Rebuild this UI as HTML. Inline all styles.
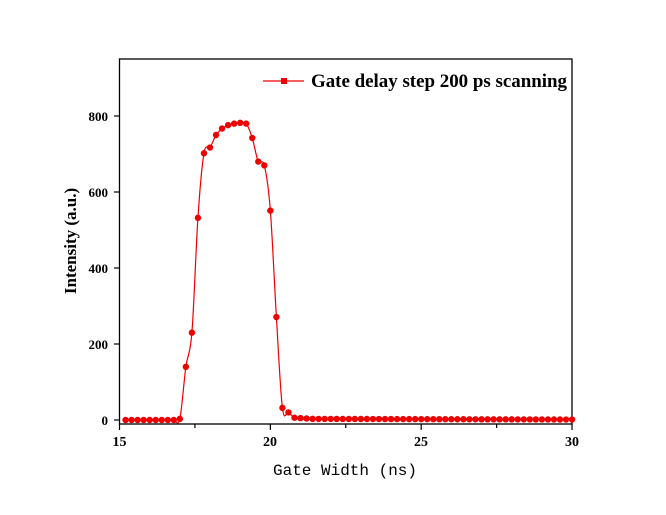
<!DOCTYPE html>
<html><head><meta charset="utf-8"><style>body{margin:0;background:#fff}</style></head>
<body>
<svg id="s" width="666" height="510" xmlns="http://www.w3.org/2000/svg" font-family="Liberation Serif, serif">
<rect width="666" height="510" fill="#fff"/>
<rect x="119.5" y="59" width="452.5" height="365" fill="none" stroke="#000" stroke-width="1.3"/>
<g id="ax" stroke="#000" stroke-width="1.2"></g>
<g font-weight="bold" font-size="13" text-anchor="end">
<text x="108" y="425">0</text><text x="108" y="349">200</text><text x="108" y="273">400</text><text x="108" y="197">600</text><text x="108" y="121">800</text>
</g>
<g font-weight="bold" font-size="14" text-anchor="middle">
<text x="119.5" y="446">15</text><text x="270" y="446">20</text><text x="421" y="446">25</text><text x="572" y="446">30</text>
</g>
<text x="345" y="475" text-anchor="middle" font-family="Liberation Mono, monospace" font-size="16">Gate Width (ns)</text>
<text transform="translate(76,241) rotate(-90)" text-anchor="middle" font-weight="bold" font-size="17">Intensity (a.u.)</text>
<line x1="263" y1="81" x2="304" y2="81" stroke="#e00" stroke-width="1.2"/>
<rect x="281" y="78" width="6" height="6" fill="#e00"/>
<text x="311" y="87" font-weight="bold" font-size="19" textLength="256" lengthAdjust="spacingAndGlyphs">Gate delay step 200 ps scanning</text>
<g id="d"></g>
</svg>
<script>
var ax=document.getElementById('ax'),d=document.getElementById('d'),h='';
function X(v){return 119.5+(v-15)*30.17}function Y(v){return 420-v*0.38}
for(var t=15;t<=30;t+=2.5){var mj=(t%5==0);h+='<line x1="'+X(t)+'" y1="424" x2="'+X(t)+'" y2="'+(424+(mj?6:4))+'"/>';}
for(var v=0;v<=800;v+=200)h+='<line x1="119.5" y1="'+Y(v)+'" x2="114" y2="'+Y(v)+'"/>';
ax.innerHTML=h;
var peak={17.0:3,17.2:140,17.4:230,17.6:532,17.8:702,18.0:717,18.2:750,18.4:767,18.6:776,18.8:780,19.0:782,19.2:780,19.4:742,19.6:680,19.8:670,20.0:551,20.2:271,20.4:32,20.6:20,20.8:6,21.0:5,21.2:4};
var pts=[];for(var i=76;i<=150;i++){var x=i/5;var k=x.toFixed(1);var y;if(x<17)y=0;else if(peak[parseFloat(k)]!==undefined)y=peak[parseFloat(k)];else y=Math.max(1,3-(x-21.2)*0.2);pts.push([X(x),Y(y)]);}
var p='M'+pts[0][0]+','+pts[0][1];
for(var i=0;i<pts.length-1;i++){var p0=pts[Math.max(0,i-1)],p1=pts[i],p2=pts[i+1],p3=pts[Math.min(pts.length-1,i+2)];
p+=' C'+(p1[0]+(p2[0]-p0[0])/6)+','+(p1[1]+(p2[1]-p0[1])/6)+' '+(p2[0]-(p3[0]-p1[0])/6)+','+(p2[1]-(p3[1]-p1[1])/6)+' '+p2[0]+','+p2[1];}
var s='<path d="'+p+'" fill="none" stroke="#e00" stroke-width="1.2"/>';
pts.forEach(function(q){s+='<circle cx="'+q[0]+'" cy="'+q[1]+'" r="3.2" fill="#e00"/>';});
d.innerHTML=s;
</script>
</body></html>
